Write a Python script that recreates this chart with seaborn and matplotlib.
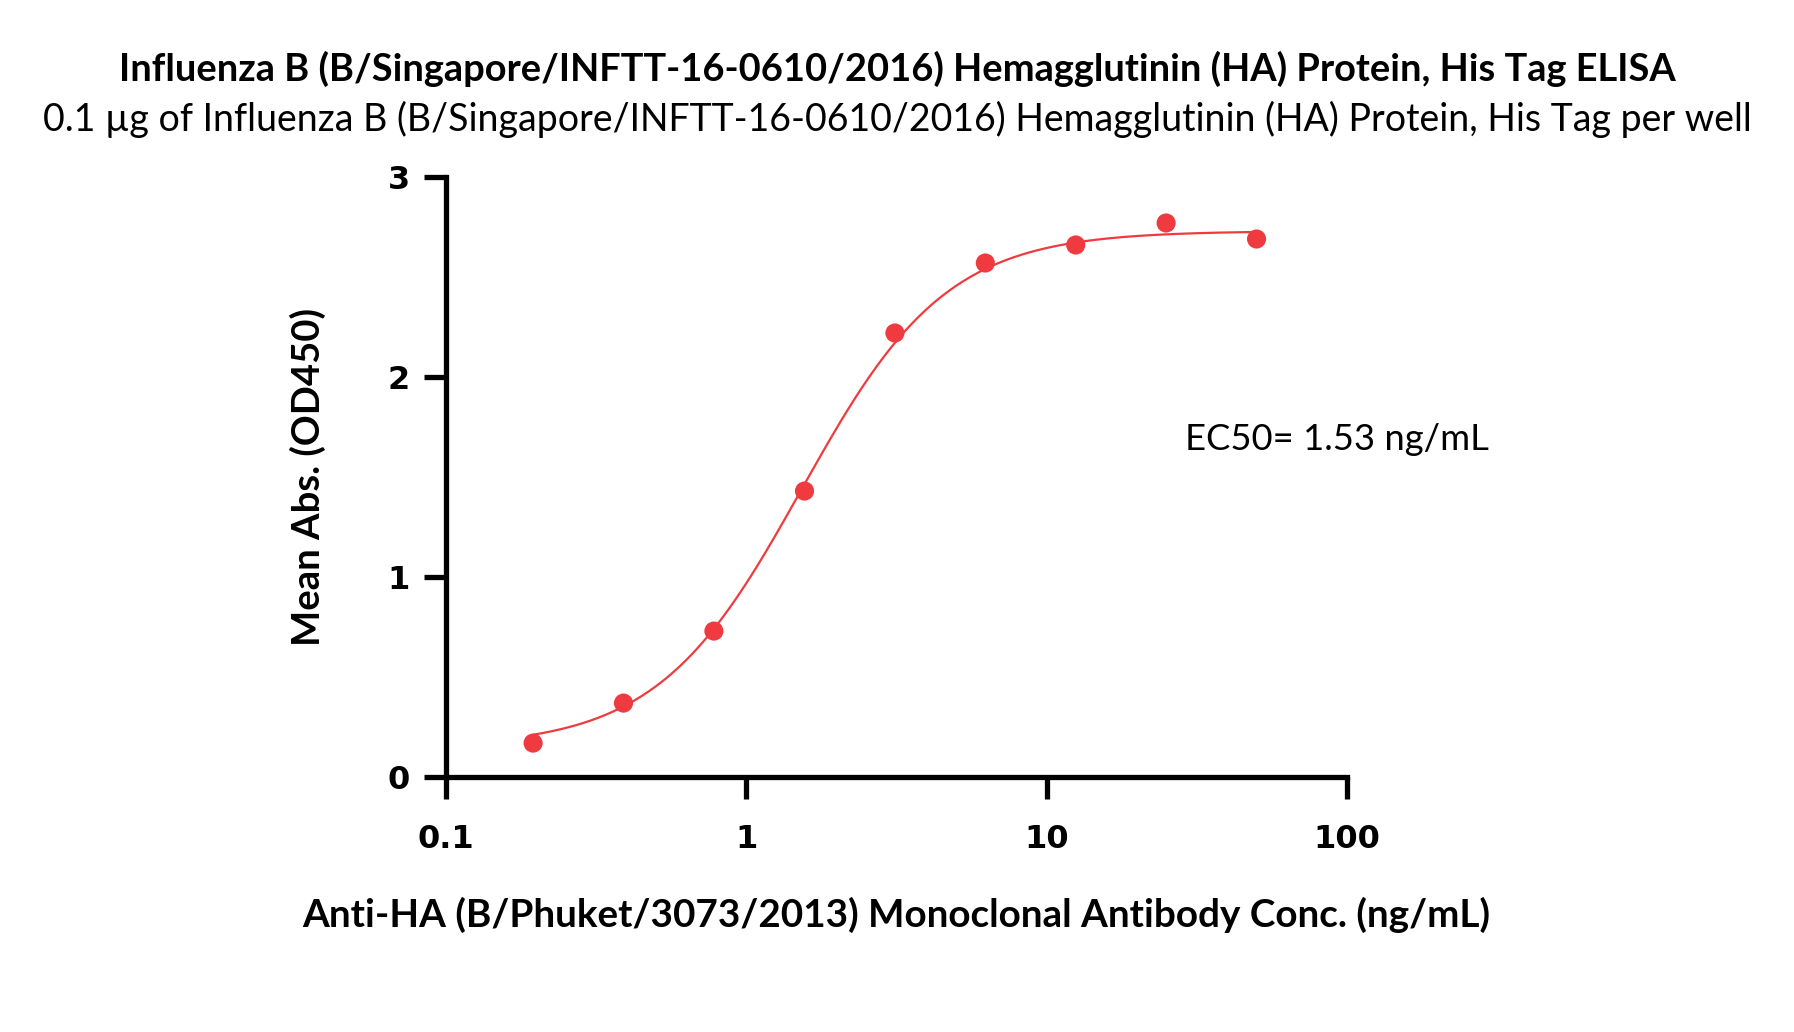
import numpy as np
import pandas as pd
import matplotlib
matplotlib.use("Agg")
import matplotlib.pyplot as plt
import seaborn as sns
from matplotlib.ticker import FixedLocator, NullLocator

# measured points (ng/mL vs OD450)
conc = [0.195, 0.39, 0.78, 1.5625, 3.125, 6.25, 12.5, 25, 50]
od450 = [0.17, 0.37, 0.73, 1.43, 2.22, 2.57, 2.66, 2.77, 2.69]

# 4PL fit parameters
fit_bottom = 0.15
fit_top = 2.73
fit_ec50 = 1.53
fit_hill = 1.8

x_ticks = [0.1, 1, 10, 100]
x_tick_labels = ["0.1", "1", "10", "100"]
y_ticks = [0, 1, 2, 3]

title = "Influenza B (B/Singapore/INFTT-16-0610/2016) Hemagglutinin (HA) Protein, His Tag ELISA"
subtitle = "0.1 µg of Influenza B (B/Singapore/INFTT-16-0610/2016) Hemagglutinin (HA) Protein, His Tag per well"
ec50_text = "EC50= 1.53 ng/mL"

red = "#EF3B40"

sns.set_theme(style="ticks")
plt.rcParams['font.family'] = ['Lato', 'DejaVu Sans']

points = pd.DataFrame({"conc": conc, "od": od450})
xs = np.logspace(np.log10(conc[0]), np.log10(conc[-1]), 300)
curve = pd.DataFrame({
    "conc": xs,
    "od": fit_bottom + (fit_top - fit_bottom) / (1 + (fit_ec50 / xs) ** fit_hill),
})

fig = plt.figure(figsize=(17.94, 10.32), dpi=100)
ax = fig.add_axes([0.2486, 0.247, 0.5022, 0.5815])

sns.lineplot(data=curve, x="conc", y="od", color=red, linewidth=1.6, ax=ax)
sns.scatterplot(data=points, x="conc", y="od", color=red, s=190, edgecolor="none", ax=ax, zorder=3)

ax.set_xscale("log")
ax.set_xlim(0.1, 100)
ax.set_ylim(0, 3)
ax.xaxis.set_major_locator(FixedLocator(x_ticks))
ax.xaxis.set_minor_locator(NullLocator())
ax.set_xticklabels(x_tick_labels)
ax.set_yticks(y_ticks)

for side in ["top", "right"]:
    ax.spines[side].set_visible(False)
for side in ["left", "bottom"]:
    ax.spines[side].set_linewidth(3.8)
    ax.spines[side].set_color("black")
ax.tick_params(axis="both", length=16, width=3.8, color="black")
ax.tick_params(axis="x", pad=18)
ax.tick_params(axis="y", pad=10)
for lab in ax.get_xticklabels() + ax.get_yticklabels():
    lab.set_fontfamily("DejaVu Sans")
    lab.set_fontweight("bold")
    lab.set_fontsize(23)
    lab.set_color("black")

ax.set_xlabel("Anti-HA (B/Phuket/3073/2013) Monoclonal Antibody Conc. (ng/mL)",
              fontsize=27.8, fontweight="bold", labelpad=30, color="black")
ax.set_ylabel("Mean Abs. (OD450)", fontsize=27.5, fontweight="bold", labelpad=44, color="black")

ax.text(28.8, 1.69, ec50_text, fontsize=26.2, ha="left", va="center", color="black")

fig.text(0.5, 0.9335, title, fontsize=27.4, fontweight="bold", ha="center", va="center", color="black")
fig.text(0.5, 0.8847, subtitle, fontsize=27, ha="center", va="center", color="black")

fig.savefig("out.png", dpi=100, facecolor="white")
